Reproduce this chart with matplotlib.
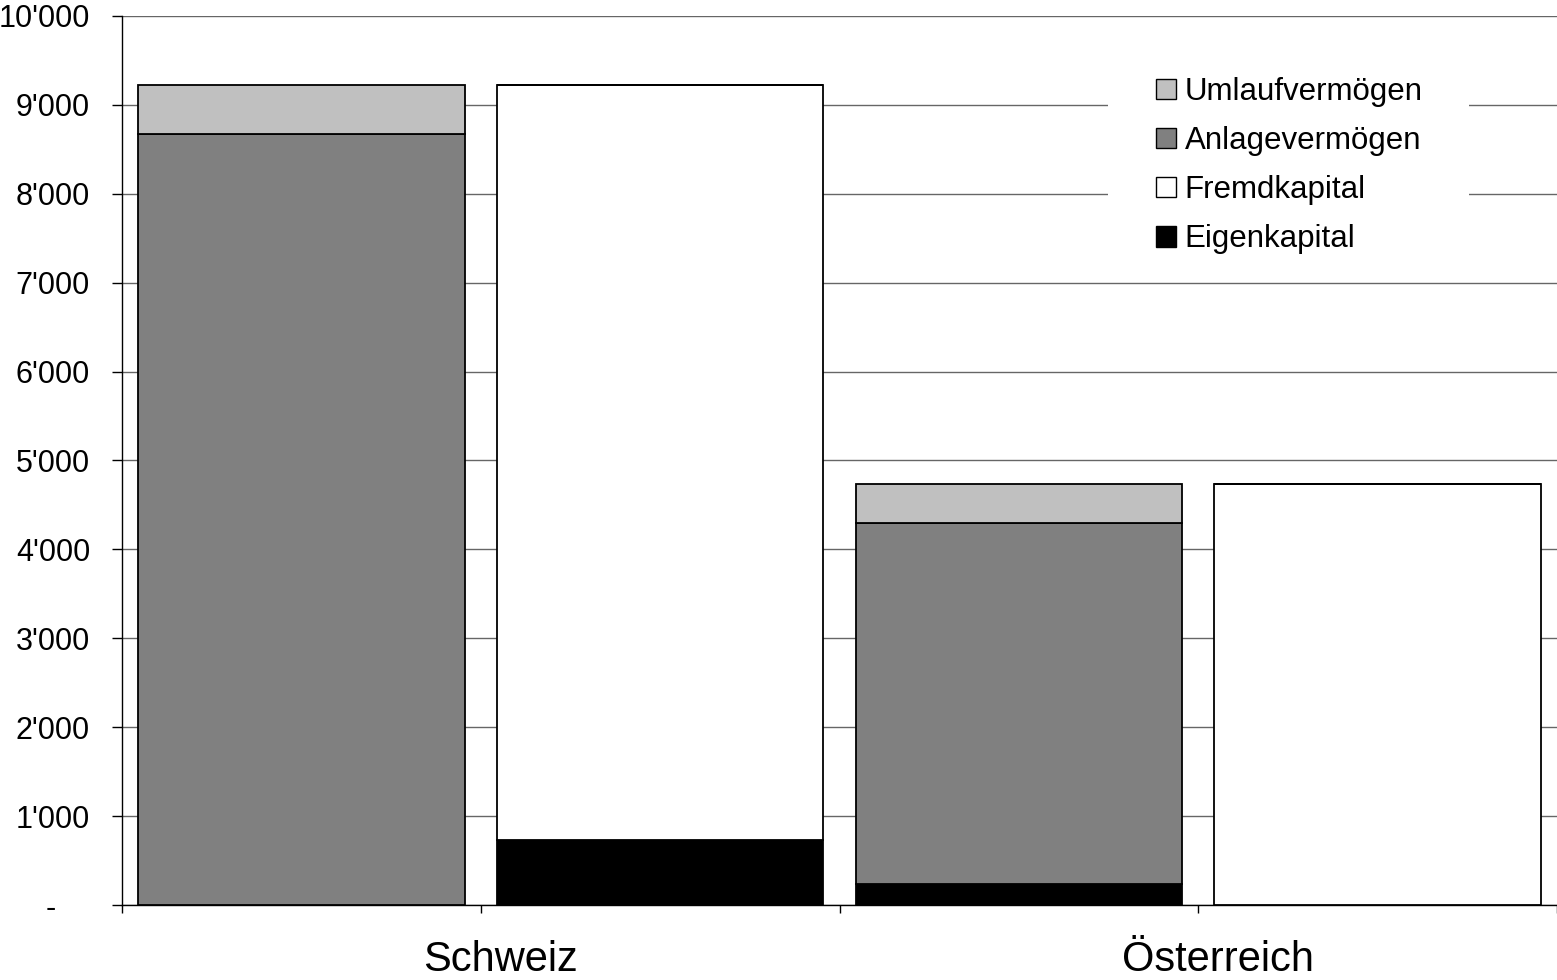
import matplotlib
matplotlib.use("Agg")
import matplotlib.pyplot as plt
import numpy as np
from matplotlib.patches import Rectangle
from matplotlib.ticker import FuncFormatter

plt.rcParams['font.family'] = ['Liberation Sans', 'DejaVu Sans']

categories = ["Schweiz", "Österreich"]
# four bars: Schweiz Aktiven, Schweiz Passiven, Österreich Aktiven, Österreich Passiven
eigenkapital = [0, 730, 236, 0]
fremdkapital = [0, 8490, 0, 4735]
anlagevermoegen = [8670, 0, 4064, 0]
umlaufvermoegen = [550, 0, 435, 0]
yticks = list(range(0, 10001, 1000))

fig = plt.figure(figsize=(15.57, 9.8), dpi=100)
ax = fig.add_axes([122/1557, 1-905/980, 1-122/1557, (905-16)/980])

x = np.arange(4)
w = 0.91
ekw = dict(edgecolor='black', linewidth=1.3, zorder=3)
b = np.zeros(4)
h_e = ax.bar(x, eigenkapital, w, bottom=b, color='black', label='Eigenkapital', **ekw); b += eigenkapital
h_f = ax.bar(x, fremdkapital, w, bottom=b, color='white', label='Fremdkapital', **ekw); b += fremdkapital
h_a = ax.bar(x, anlagevermoegen, w, bottom=b, color='#808080', label='Anlagevermögen', **ekw); b += anlagevermoegen
h_u = ax.bar(x, umlaufvermoegen, w, bottom=b, color='#C0C0C0', label='Umlaufvermögen', **ekw); b += umlaufvermoegen

ax.set_xlim(-0.5, 3.5)
ax.set_ylim(0, 10000)
ax.set_yticks(yticks)

def fmt(v, pos):
    if v == 0:
        return "-    "
    return f"{int(v):,}".replace(",", "'")
ax.yaxis.set_major_formatter(FuncFormatter(fmt))
ax.tick_params(axis='y', labelsize=22, length=7, width=1, pad=16, direction='out')
ax.set_xticks([-0.5, 0.5, 1.5, 2.5, 3.5])
ax.set_xticklabels([])
ax.tick_params(axis='x', length=6, width=1, direction='out')

ax.yaxis.grid(True, color='#666666', linewidth=1.0, zorder=0)
ax.set_axisbelow(True)
for s in ['top', 'right']:
    ax.spines[s].set_visible(False)
ax.spines['left'].set_linewidth(1.0)
ax.spines['bottom'].set_linewidth(1.0)

for i, cat in enumerate(categories):
    ax.annotate(cat, xy=(2*i + 0.5, 0), xycoords=('data', 'axes fraction'),
                xytext=(14, -47.5), textcoords='offset points',
                ha='center', va='baseline', fontsize=30)

# white box behind legend
ax.add_patch(Rectangle((0.687, 0.714), 0.252, 0.236, transform=ax.transAxes,
                       facecolor='white', edgecolor='none', zorder=2))

leg = ax.legend(handles=[h_u, h_a, h_f, h_e], loc='upper left',
                bbox_to_anchor=(1156/1557, 1-77/980), bbox_transform=fig.transFigure,
                frameon=False, fontsize=22.5, borderpad=0, borderaxespad=0,
                handlelength=0.64, handleheight=0.64, handletextpad=0.28,
                labelspacing=0.61)
leg.set_zorder(4)
for p in leg.get_patches():
    p.set_linewidth(1.0)

fig.savefig("out.png", dpi=100)
